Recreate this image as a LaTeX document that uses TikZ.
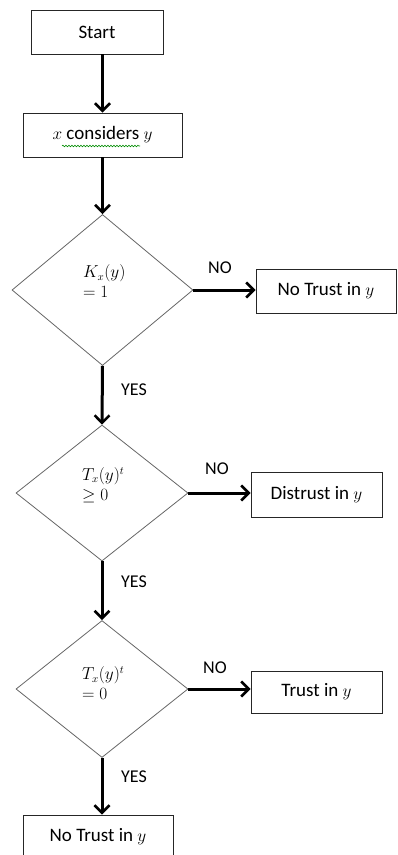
\documentclass[tikz,border=0pt]{standalone}
\usepackage{fontspec}
\setmainfont{Carlito}
\usetikzlibrary{shapes.geometric,arrows.meta,decorations.pathmorphing}

\begin{document}
\begin{tikzpicture}[x=1pt,y=-1pt,
  box/.style={draw=black!85, line width=0.9pt, inner sep=0pt, font=\fontsize{19}{22}\selectfont},
  decision/.style={draw=black!60, diamond, line width=0.8pt, inner sep=0pt},
  cond/.style={align=left, font=\fontsize{16}{20}\selectfont, inner sep=0pt, anchor=west},
  lbl/.style={font=\fontsize{18}{20}\selectfont, inner sep=0pt},
  arr/.style={line width=3pt, -{Straight Barb[length=7.5pt,width=15pt,line width=2.6pt]}},
  squiggle/.style={draw=green!55!black, line width=0.6pt, decorate,
    decoration={snake, amplitude=0.8pt, segment length=3pt}}]

  \useasboundingbox (0,0) rectangle (398,855);

  % process boxes
  \node[box, minimum width=132pt, minimum height=44pt] (start) at (97,32) {Start};
  \node[box, minimum width=159pt, minimum height=44pt] (consider) at (102.5,135) {$x$ considers $y$};
  \draw[squiggle] (62,146) -- (140,146);

  % decisions
  \node[decision, minimum width=181pt, minimum height=151pt] (d1) at (102.5,290) {};
  \node[cond] (c1) at (83,281) {$K_x(y)$\\$=1$};
  \node[decision, minimum width=172pt, minimum height=136pt] (d2) at (102,493) {};
  \node[cond] (c2) at (82,485) {$T_x(y)^t$\\$\geq 0$};
  \node[decision, minimum width=172pt, minimum height=137pt] (d3) at (102,689) {};
  \node[cond] (c3) at (82,683) {$T_x(y)^t$\\$=0$};

  % outcomes
  \node[box, minimum width=140pt, minimum height=44pt] (o1) at (326,291) {No Trust in $y$};
  \node[box, minimum width=131pt, minimum height=45pt] (o2) at (316.5,494.5) {Distrust in $y$};
  \node[box, minimum width=131pt, minimum height=42pt] (o3) at (316.5,692) {Trust in $y$};
  \node[box, minimum width=150pt, minimum height=44pt] (o4) at (98,837) {No Trust in $y$};

  % main flow
  \draw[arr] (consider.north |- start.south) -- (consider.north);
  \draw[arr] (consider.south) -- (d1.north);
  \draw[arr] (d1.south) -- (d2.north);
  \draw[arr] (d2.south) -- (d3.north);
  \draw[arr] (d3.south) -- (d3.south |- o4.north);

  % NO branches
  \draw[arr] (d1.east) -- (d1.east -| o1.west);
  \draw[arr] (d2.east) -- (d2.east -| o2.west);
  \draw[arr] (d3.east) -- (d3.east -| o3.west);

  % branch labels
  \node[lbl] (no1) at (220,268) {NO};
  \node[lbl] (yes1) at (134,390) {YES};
  \node[lbl] (no2) at (217,469) {NO};
  \node[lbl] (yes2) at (134,582) {YES};
  \node[lbl] (no3) at (215,668) {NO};
  \node[lbl] (yes3) at (134,777) {YES};
\end{tikzpicture}
\end{document}
